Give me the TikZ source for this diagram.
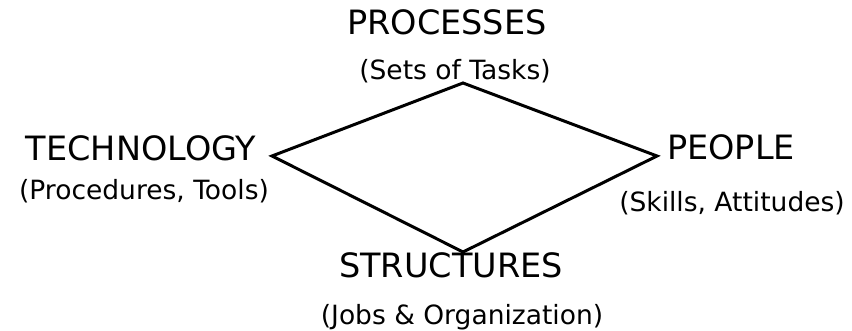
\documentclass[tikz,border=0pt]{standalone}
\usepackage{fontspec}
\setmainfont{DejaVu Sans}
\usetikzlibrary{positioning}

\tikzset{
  heading/.style={anchor=base, inner sep=0pt, font=\fontsize{33.5}{38}\selectfont},
  subheading/.style={anchor=base, inner sep=0pt, font=\fontsize{26.5}{31}\selectfont}
}

\begin{document}
\begin{tikzpicture}[x=1pt, y=-1pt]
  \useasboundingbox (0,0) rectangle (852,331);
  \coordinate (top) at (463,83);
  \coordinate (left) at (272,156);
  \coordinate (right) at (657,156);
  \coordinate (bottom) at (463,252);
  \draw[line width=3pt] (top) -- (right) -- (bottom) -- (left) -- cycle;

  \node[heading] (processes) at (447,35) {PROCESSES};
  \node[subheading] (tasks) at (455,80) {(Sets of Tasks)};
  \node[heading] (technology) at (141,161) {TECHNOLOGY};
  \node[subheading] (tools) at (144,200) {(Procedures, Tools)};
  \node[heading] (people) at (731,160) {PEOPLE};
  \node[subheading] (skills) at (732,212) {(Skills, Attitudes)};
  \node[heading] (structures) at (451,278) {STRUCTURES};
  \node[subheading] (jobs) at (462,324) {(Jobs \& Organization)};
\end{tikzpicture}
\end{document}
